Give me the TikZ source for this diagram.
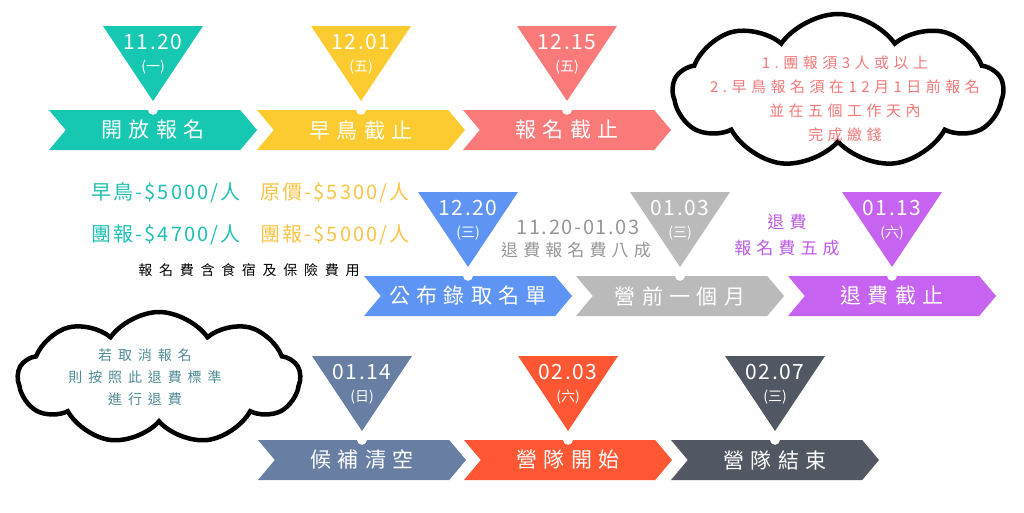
\documentclass[tikz,border=0pt]{standalone}
\usepackage{fontspec}
\usepackage{tikz}
\usetikzlibrary{shapes.symbols, positioning}
\setmainfont{Noto Sans CJK TC}
\newfontfamily\widecjk[LetterSpace=30]{Noto Sans CJK TC}
\definecolor{campteal}{RGB}{22, 199, 178}
\definecolor{campyellow}{RGB}{252, 203, 48}
\definecolor{campsalmon}{RGB}{250, 122, 122}
\definecolor{campblue}{RGB}{94, 148, 244}
\definecolor{campgray}{RGB}{186, 186, 186}
\definecolor{camppurple}{RGB}{198, 99, 240}
\definecolor{campslate}{RGB}{104, 127, 163}
\definecolor{camporange}{RGB}{255, 87, 51}
\definecolor{campdark}{RGB}{82, 88, 99}
\definecolor{pricetext}{RGB}{30, 192, 180}
\definecolor{yellowtext}{RGB}{250, 196, 70}
\definecolor{notetext}{RGB}{245, 120, 120}
\definecolor{refundtext}{RGB}{80, 140, 150}
\definecolor{graytext}{RGB}{150, 150, 150}
\definecolor{purpletext}{RGB}{190, 90, 230}

\tikzset{
  stagebox/.style={signal, signal from=west, signal to=east, signal pointer angle=100,
    minimum width=208pt, minimum height=40pt, inner sep=0pt, text=white,
    font=\widecjk\fontsize{21}{21}\selectfont},
  datetext/.style={text=white, inner sep=0pt, font=\widecjk\addfontfeature{LetterSpace=8}\fontsize{21}{21}\selectfont},
  daytext/.style={text=white, inner sep=0pt, font=\fontsize{14}{14}\selectfont},
  notecloud/.style={cloud, cloud puffs=9, cloud puff arc=110, draw=black, line width=4.5pt, fill=white, inner sep=0pt},
  pricenote/.style={inner sep=0pt, font=\widecjk\addfontfeature{LetterSpace=10}\fontsize{20}{20}\selectfont},
  smallnote/.style={inner sep=0pt, align=center, font=\widecjk\fontsize{15}{24}\selectfont}
}

\begin{document}
\begin{tikzpicture}[x=1pt, y=-1pt]
  \useasboundingbox (0,0) rectangle (1024,512);

  % clouds
  \node[notecloud, minimum width=330pt, minimum height=154pt] (rulecloud) at (838,91) {};
  \node[smallnote, text=notetext] (ruletext) at (845,99)
    {1.團報須3人或以上\\2.早鳥報名須在12月1日前報名\\並在五個工作天內\\完成繳錢};
  \node[notecloud, minimum width=282pt, minimum height=132pt] (refundcloud) at (159,378) {};
  \node[smallnote, text=refundtext, font=\widecjk\addfontfeature{LetterSpace=42}\fontsize{14}{22}\selectfont] (refundnote) at (145,377)
    {若取消報名\\則按照此退費標準\\進行退費};

  % milestones
  \foreach \cx/\cy/\col/\stagename/\mdate/\wday [count=\i] in {
      153/130/campteal/開放報名/11.20/一,
      361/130/campyellow/早鳥截止/12.01/五,
      567/130/campsalmon/報名截止/12.15/五,
      468/296/campblue/公布錄取名單/12.20/三,
      680/296/campgray/營前一個月/01.03/三,
      892/296/camppurple/退費截止/01.13/六,
      362/460/campslate/候補清空/01.14/日,
      568/460/camporange/營隊開始/02.03/六,
      775/460/campdark/營隊結束/02.07/三} {
    \node[stagebox, fill=\col] (stage\i) at (\cx,\cy) {\stagename};
    \fill[white] (stage\i.north) circle (5pt);
    \fill[\col] (\cx-50,\cy-104) -- (\cx+50,\cy-104) -- (\cx,\cy-29) -- cycle;
    \node[datetext] (date\i) at (\cx,\cy-88) {\mdate};
    \node[daytext] (day\i) at (\cx,\cy-63) {(\wday)};
  }

  % prices
  \node[pricenote, text=pricetext] (earlyprice) at (166,193) {早鳥-\$5000/人};
  \node[pricenote, text=pricetext] (earlygroup) at (166,235) {團報-\$4700/人};
  \node[pricenote, text=yellowtext] (fullprice) at (335,193) {原價-\$5300/人};
  \node[pricenote, text=yellowtext] (fullgroup) at (335,235) {團報-\$5000/人};
  \node[smallnote, text=black, font=\widecjk\addfontfeature{LetterSpace=48}\fontsize{14}{14}\selectfont] (feenote) at (249,270) {報名費含食宿及保險費用};

  % refund notes
  \node[smallnote, text=graytext, font=\widecjk\addfontfeature{LetterSpace=8}\fontsize{20}{20}\selectfont] (refundspan) at (578,227) {11.20-01.03};
  \node[smallnote, text=graytext, font=\widecjk\fontsize{17}{17}\selectfont] (refundeighty) at (576,250) {退費報名費八成};
  \node[smallnote, text=purpletext, font=\widecjk\fontsize{17}{26}\selectfont] (refundhalf) at (787,235) {退費\\報名費五成};
\end{tikzpicture}
\end{document}
